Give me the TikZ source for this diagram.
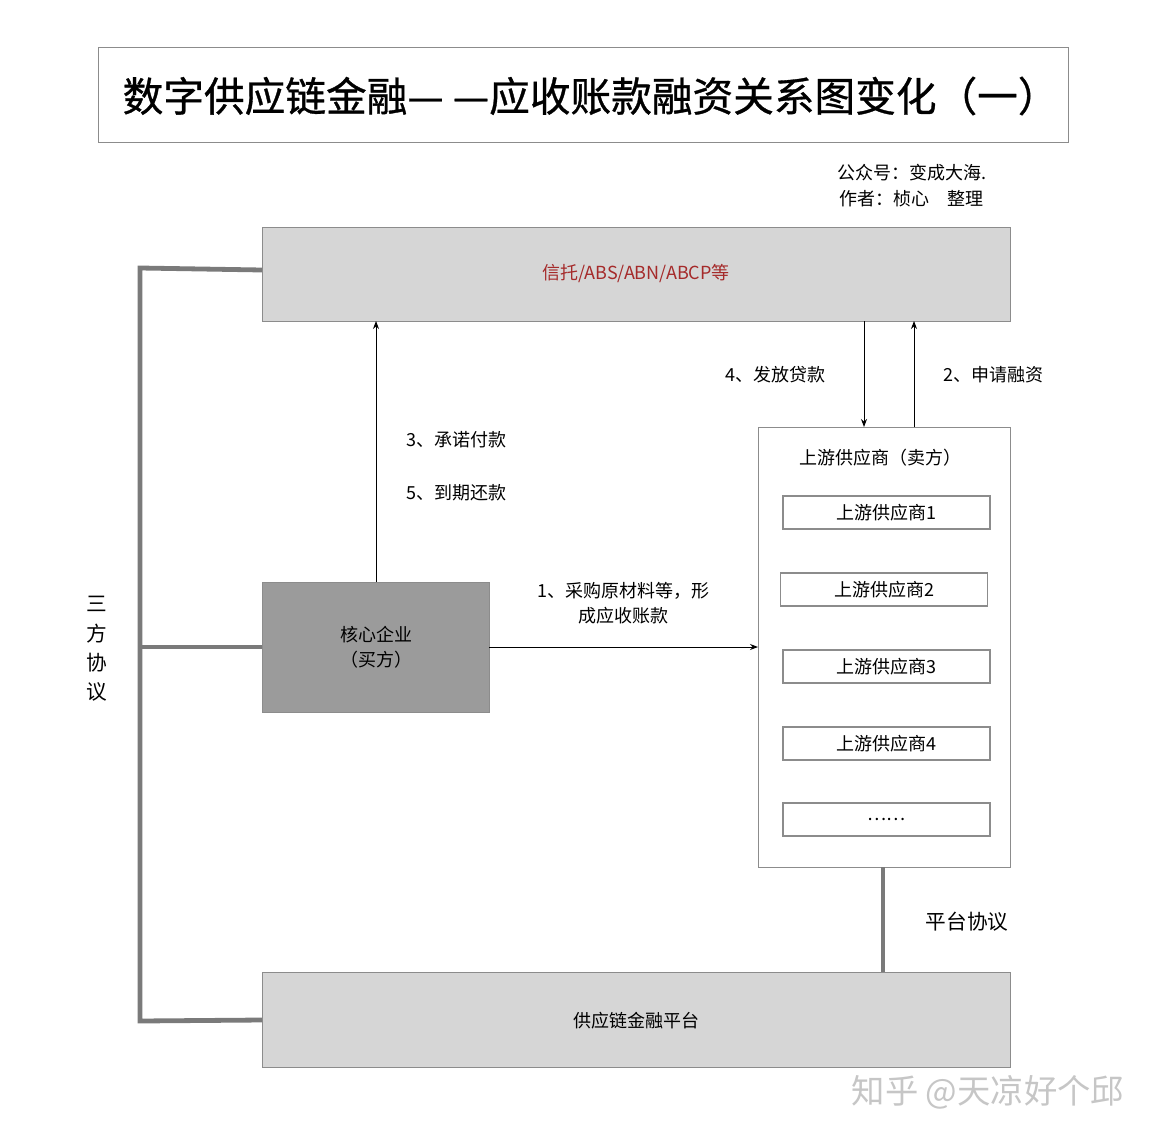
\documentclass[tikz,border=0pt]{standalone}
\usepackage{fontspec}
\usetikzlibrary{arrows.meta}
\setmainfont{Noto Sans CJK SC}
\newfontfamily\titlefont{Noto Sans CJK SC}[FakeBold=0.8]
\definecolor{lg}{HTML}{D6D6D6}
\definecolor{dg}{HTML}{9B9B9B}
\definecolor{bd}{HTML}{8C8C8C}
\definecolor{tk}{HTML}{7A7A7A}
\definecolor{rd}{HTML}{A52A2A}
\begin{document}
\begin{tikzpicture}[x=0.75pt,y=-0.75pt,
  box/.style={draw=bd,line width=0.8pt,anchor=north west,inner sep=0},
  sub/.style={draw=bd,line width=0.8pt,fill=white,minimum width=207*0.75pt,minimum height=33*0.75pt,inner sep=0,font=\fontsize{13.5}{15}\selectfont},
  lbl/.style={font=\fontsize{13.5}{19}\selectfont},
  thk/.style={draw=tk,line width=3.6pt},
  arr/.style={-{Stealth[length=6pt,width=4.5pt]},line width=0.7pt}]
\useasboundingbox (0,0) rectangle (1156,1138);
\fill[white] (0,0) rectangle (1156,1138);
\node[box,minimum width=970*0.75pt,minimum height=95*0.75pt] (title) at (98,47) {};
\node[anchor=west,font=\titlefont\fontsize{30.5}{32}\selectfont] (tt) at (118,96) {数字供应链金融— —应收账款融资关系图变化（一）};
\node[lbl,anchor=west] (gz) at (833,173) {公众号：变成大海.};
\node[lbl,anchor=west] (zz) at (835,199) {作者：桢心\quad 整理};
\node[box,fill=lg,minimum width=748*0.75pt,minimum height=94*0.75pt] (top) at (262,227) {};
\node[lbl,text=rd] at (636,274) {信托/ABS/ABN/ABCP等};
\node[box,fill=dg,minimum width=227*0.75pt,minimum height=130*0.75pt] (core) at (262,582) {};
\node[lbl,align=center] at (376,647) {核心企业\\（买方）};
\node[box,fill=white,minimum width=252*0.75pt,minimum height=440*0.75pt] (sup) at (758,427) {};
\node[lbl] at (880,458) {上游供应商（卖方）};
\node[sub] (s1) at (886.5,512.5) {上游供应商1};
\node[sub] (s2) at (884,589.5) {上游供应商2};
\node[sub] (s3) at (886.5,666.5) {上游供应商3};
\node[sub] (s4) at (886.5,743.5) {上游供应商4};
\node[sub] (s5) at (886.5,819.5) {……};
\node[box,fill=lg,minimum width=748*0.75pt,minimum height=95*0.75pt] (bot) at (262,972) {};
\node[lbl] at (636,1021) {供应链金融平台};
\draw[arr] (376,582) -- (376,321);
\node[lbl] at (456,440) {3、承诺付款};
\node[lbl] at (456,493) {5、到期还款};
\draw[arr] (864,321) -- (864,427);
\draw[arr] (914,427) -- (914,321);
\node[lbl] at (775,375) {4、发放贷款};
\node[lbl] at (993,375) {2、申请融资};
\draw[arr] (489,647) -- (758,647);
\node[lbl,align=center] at (623,603) {1、采购原材料等，形\\成应收账款};
\draw[thk] (262,270) -- (140,268) -- (140,1021) -- (262,1020);
\draw[thk] (140,647) -- (262,647);
\node[font=\fontsize{15.5}{22}\selectfont,align=center] at (97,649) {三\\方\\协\\议};
\draw[thk] (883,867) -- (883,972);
\node[font=\fontsize{15.5}{18}\selectfont] at (967,922) {平台协议};
\node[font=\fontsize{25}{28}\selectfont,text=gray!45] at (988,1092) {知乎 @天凉好个邱};
\end{tikzpicture}
\end{document}
